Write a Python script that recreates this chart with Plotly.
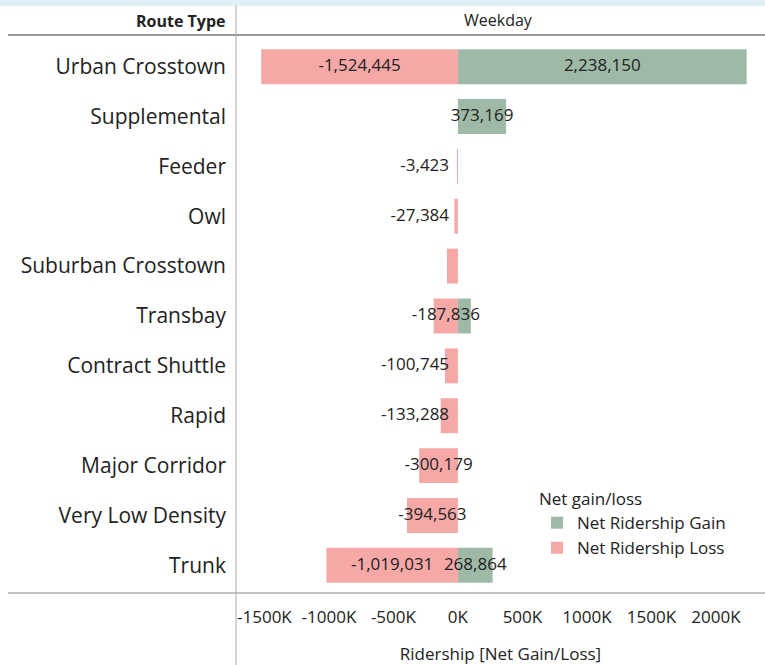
import plotly.graph_objects as go

categories = ["Urban Crosstown", "Supplemental", "Feeder", "Owl", "Suburban Crosstown",
              "Transbay", "Contract Shuttle", "Rapid", "Major Corridor",
              "Very Low Density", "Trunk"]
loss_values = [-1524445, 0, -3423, -27384, -85000, -187836, -100745, -133288,
               -300179, -394563, -1019031]
gain_values = [2238150, 373169, 0, 0, 0, 100000, 0, 0, 0, 0, 268864]
loss_labeled = [True, False, True, True, False, True, True, True, True, True, True]
gain_labeled = [True, True, False, False, False, False, False, False, False, False, True]
tick_vals = [-1500000, -1000000, -500000, 0, 500000, 1000000, 1500000, 2000000]
tick_text = ["-1500K", "-1000K", "-500K", "0K", "500K", "1000K", "1500K", "2000K"]

FONT = "Open Sans"
GREEN = "#9fb9a7"
PINK = "#f6a8a7"
TXT = "#222222"

fig = go.Figure()
fig.add_trace(go.Bar(
    y=categories, x=gain_values, orientation="h", name="Net Ridership Gain",
    marker=dict(color=GREEN, line=dict(width=0)), legendgroup="g", hoverinfo="skip"))
fig.add_trace(go.Bar(
    y=categories, x=loss_values, orientation="h", name="Net Ridership Loss",
    marker=dict(color=PINK, line=dict(width=0)), legendgroup="l", hoverinfo="skip"))

# value labels drawn on top of all bars
NBSP = "\u00a0"
def label_trace(vals, flags, small_outside):
    xs, ys, ts, ps = [], [], [], []
    for c, v, s in zip(categories, vals, flags):
        if not s:
            continue
        outside = small_outside and abs(v) < 150000
        xs.append(0 if outside else v / 2)
        ys.append(c)
        ts.append(f"{v:,}" + (NBSP * 2 if outside else ""))
        ps.append("middle left" if outside else "middle center")
    return go.Scatter(x=xs, y=ys, text=ts, mode="text", textposition=ps,
                      textfont=dict(family=FONT, size=17, color=TXT),
                      showlegend=False, hoverinfo="skip", cliponaxis=False)

fig.add_trace(label_trace(gain_values, gain_labeled, False))
fig.add_trace(label_trace(loss_values, loss_labeled, True))

W, H = 765, 665
L, R, T, B = 236, 0, 39, 72
pw, ph = W - L - R, H - T - B

def py(pix):
    return (H - B - pix) / ph

def px(pix):
    return (pix - L) / pw

shapes = [
    dict(type="rect", xref="paper", yref="paper", x0=px(0), x1=px(W), y0=py(6), y1=py(0),
         fillcolor="#dff1f4", line=dict(width=0), layer="below"),
    dict(type="line", xref="paper", yref="paper", x0=px(8), x1=px(W), y0=py(35), y1=py(35),
         line=dict(color="#777777", width=1.5)),
    dict(type="line", xref="paper", yref="paper", x0=px(8), x1=px(W), y0=0, y1=0,
         line=dict(color="#888888", width=1)),
    dict(type="line", xref="paper", yref="paper", x0=0, x1=0, y0=py(5), y1=py(H),
         line=dict(color="#aaaaaa", width=1)),
]

annotations = [
    dict(text="<b>Route Type</b>", xref="paper", yref="paper", x=px(227), y=py(21),
         xanchor="right", yanchor="middle", showarrow=False,
         font=dict(family=FONT, size=16, color=TXT)),
    dict(text="Weekday", xref="paper", yref="paper", x=px(498), y=py(20),
         xanchor="center", yanchor="middle", showarrow=False,
         font=dict(family=FONT, size=16, color=TXT)),
]

fig.update_layout(
    width=W, height=H, margin=dict(l=L, r=R, t=T, b=B),
    paper_bgcolor="white", plot_bgcolor="white",
    barmode="relative", bargap=0.3,
    font=dict(family=FONT, color=TXT),
    showlegend=True,
    legend=dict(title=dict(text="Net gain/loss", font=dict(family=FONT, size=17, color=TXT)),
                font=dict(family=FONT, size=17, color=TXT),
                x=px(537), y=py(483), xanchor="left", yanchor="top",
                bgcolor="rgba(0,0,0,0)", tracegroupgap=2, traceorder="normal"),
    xaxis=dict(range=[-1720000, 2380000], tickvals=tick_vals, ticktext=tick_text,
               showgrid=False, zeroline=False, showline=False, ticks="",
               ticklabelstandoff=12,
               tickfont=dict(family=FONT, size=17, color=TXT),
               title=dict(text="Ridership [Net Gain/Loss]", standoff=22,
                          font=dict(family=FONT, size=17, color=TXT))),
    yaxis=dict(categoryorder="array", categoryarray=categories, autorange="reversed",
               showgrid=False, zeroline=False, showline=False, ticks="",
               ticklabelstandoff=9,
               tickfont=dict(family=FONT, size=21, color=TXT)),
    shapes=shapes, annotations=annotations,
)

fig.write_html("out.html", config={"displayModeBar": False},
               post_script="document.body.style.margin='0';")
